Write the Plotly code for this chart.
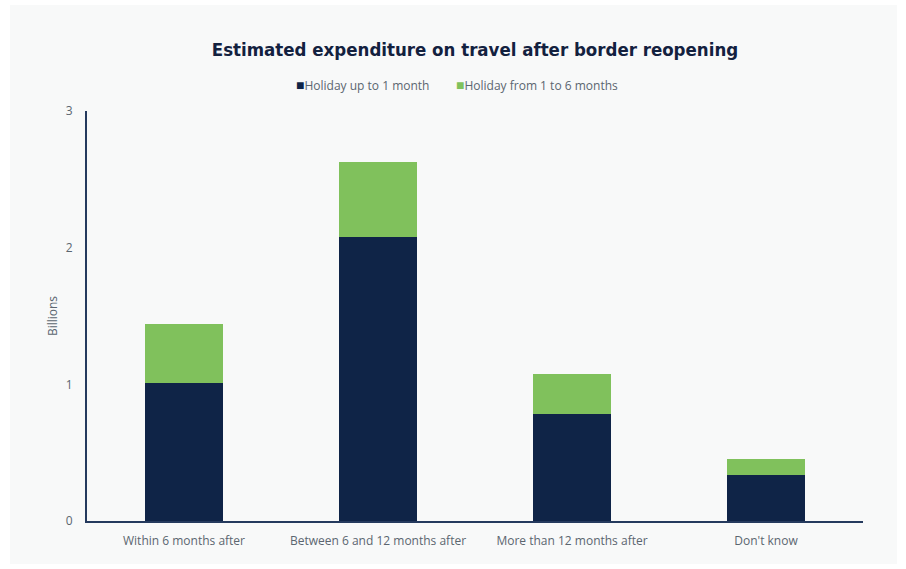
import plotly.graph_objects as go

categories = ["Within 6 months after", "Between 6 and 12 months after", "More than 12 months after", "Don't know"]
up_to_1_month = [1.01, 2.08, 0.78, 0.335]
from_1_to_6_months = [0.43, 0.55, 0.295, 0.12]
series_names = ["Holiday up to 1 month", "Holiday from 1 to 6 months"]
y_ticks = [0, 1, 2, 3]

navy = "#0f2447"
green = "#80c15c"
bg = "#f8f9f9"
grey = "#5b6670"
colors = [navy, green]

fig = go.Figure()
fig.add_trace(go.Bar(x=categories, y=up_to_1_month, name=series_names[0], marker=dict(color=navy, line=dict(width=0)), width=0.4))
fig.add_trace(go.Bar(x=categories, y=from_1_to_6_months, name=series_names[1], marker=dict(color=green, line=dict(width=0)), width=0.4))

L, R, T, B = 87, 43, 111, 48
W, H = 906, 569
pw, ph = W - L - R, H - T - B

fig.add_shape(type="rect", xref="paper", yref="paper",
              x0=(10 - L) / pw, x1=(897 - L) / pw,
              y0=(H - B - 564) / ph, y1=(H - B - 5) / ph,
              fillcolor=bg, line=dict(width=0), layer="below")

# custom legend (compact square markers as in the reference)
legend_x_px = [294, 454]
for name, col, xp in zip(series_names, colors, legend_x_px):
    fig.add_annotation(xref="paper", yref="paper", x=(xp - L) / pw, y=1 + (T - 85) / ph,
                       xanchor="left", yanchor="middle", showarrow=False,
                       text=f"<span style='color:{col};font-size:14px'>■</span>{name}",
                       font=dict(size=12, color=grey))

fig.update_layout(
    width=W, height=H, barmode="stack", showlegend=False,
    margin=dict(l=L, r=R, t=T, b=B, autoexpand=False),
    paper_bgcolor="white", plot_bgcolor="rgba(0,0,0,0)",
    font=dict(family="Open Sans", color=grey, size=12),
    title=dict(text="<b>Estimated expenditure on travel after border reopening</b>",
               x=475 / W, xanchor="center", y=1 - 50 / H, yanchor="middle",
               font=dict(family="DejaVu Sans Condensed, Open Sans", size=18.5, color="#13213f")),
    bargap=0.6,
    xaxis=dict(showgrid=False, showline=True, linecolor="#253a5e", linewidth=2,
               ticks="outside", ticklen=8, tickcolor="rgba(0,0,0,0)",
               tickfont=dict(size=12, color=grey)),
    yaxis=dict(range=[0, 3], tickvals=y_ticks, showgrid=False, zeroline=False, showline=True,
               linecolor="#253a5e", linewidth=2, ticks="outside", ticklen=10, tickcolor="rgba(0,0,0,0)",
               tickfont=dict(size=12, color=grey),
               title=dict(text="Billions", font=dict(size=12, color=grey), standoff=6)),
)

fig.write_html("out.html", config={"displayModeBar": False},
               post_script="document.body.style.margin='0';")
